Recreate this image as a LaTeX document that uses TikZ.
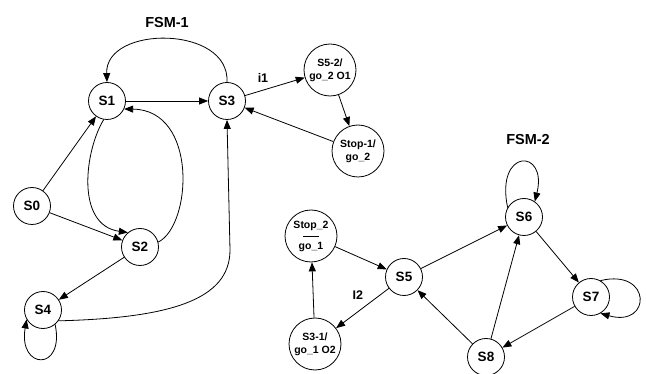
\documentclass[tikz,border=0pt]{standalone}
\usepackage{fontspec}
\setmainfont{Liberation Sans}
\usetikzlibrary{arrows.meta}

\begin{document}
\begin{tikzpicture}[x=1pt,y=-1pt,line width=0.8pt,>={Triangle[length=9pt,width=7pt]},
  state/.style={circle,draw,minimum size=37pt,inner sep=0pt,font=\fontsize{13.5}{13.5}\selectfont\bfseries},
  outstate/.style={circle,draw,minimum size=52pt,inner sep=0pt,align=center,font=\fontsize{10.5}{13}\selectfont\bfseries},
  fsmlabel/.style={font=\fontsize{14.5}{14.5}\selectfont\bfseries},
  edgelabel/.style={font=\fontsize{12.5}{12.5}\selectfont\bfseries}]
  \useasboundingbox (0,0) rectangle (646,374);

  % FSM-1
  \node[fsmlabel] (fsm1) at (167,23) {FSM-1};
  \node[state] (s0) at (32,206) {S0};
  \node[state] (s1) at (107,101) {S1};
  \node[state] (s2) at (140,247) {S2};
  \node[state] (s3) at (227,101) {S3};
  \node[state] (s4) at (43,310) {S4};
  \node[outstate] (s52) at (330,70) {S5-2/\\go\_2 O1};
  \node[outstate] (stop1) at (358,151) {Stop-1/\\go\_2};

  \draw[->] (s1) -- (s3);
  \draw[->] (s3.north) .. controls (230,25) and (105,25) .. (s1.north);
  \draw[->] (s3) -- (s52) node[edgelabel,pos=0.3,above=4pt] (i1) {i1};
  \draw[->] (s52) -- (stop1);
  \draw[->] (stop1) -- (s3);
  \draw[->] (s0) -- (s1);
  \draw[->] (s0) -- (s2);
  \draw[->] (s1.-100) .. controls (85,150) and (75,225) .. (s2.130);
  \draw[->] (s2.15) .. controls (192,225) and (198,110) .. (s1.-25);
  \draw[->] (s2) -- (s4);
  \draw[->] (s4.-35) .. controls (170,318) and (230,300) .. (230,250) -- (s3.south);
  \draw[->] (s4.-50) .. controls (65,372) and (18,370) .. (s4.-150);

  % FSM-2
  \node[fsmlabel] (fsm2) at (528,140) {FSM-2};
  \node[outstate] (stop2) at (311,236) {Stop\_2\\[-4pt]\rule{16pt}{0.6pt}\\[-1pt]go\_1};
  \node[outstate] (s31) at (315,344) {S3-1/\\go\_1 O2};
  \node[state] (s5) at (404,277) {S5};
  \node[state] (s6) at (524,217) {S6};
  \node[state] (s7) at (591,297) {S7};
  \node[state] (s8) at (486,357) {S8};

  \draw[->] (stop2) -- (s5);
  \draw[->] (s5) -- (s31) node[edgelabel,pos=0.4,above left=1pt] (i2) {I2};
  \draw[->] (s31) -- (stop2);
  \draw[->] (s5) -- (s6);
  \draw[->] (s8) -- (s5);
  \draw[->] (s8) -- (s6);
  \draw[->] (s6) -- (s7);
  \draw[->] (s7) -- (s8);
  \draw[->] (s6.150) .. controls (495,148) and (548,148) .. (s6.55);
  \draw[->] (s7.60) .. controls (652,268) and (652,328) .. (s7.-60);
\end{tikzpicture}
\end{document}
